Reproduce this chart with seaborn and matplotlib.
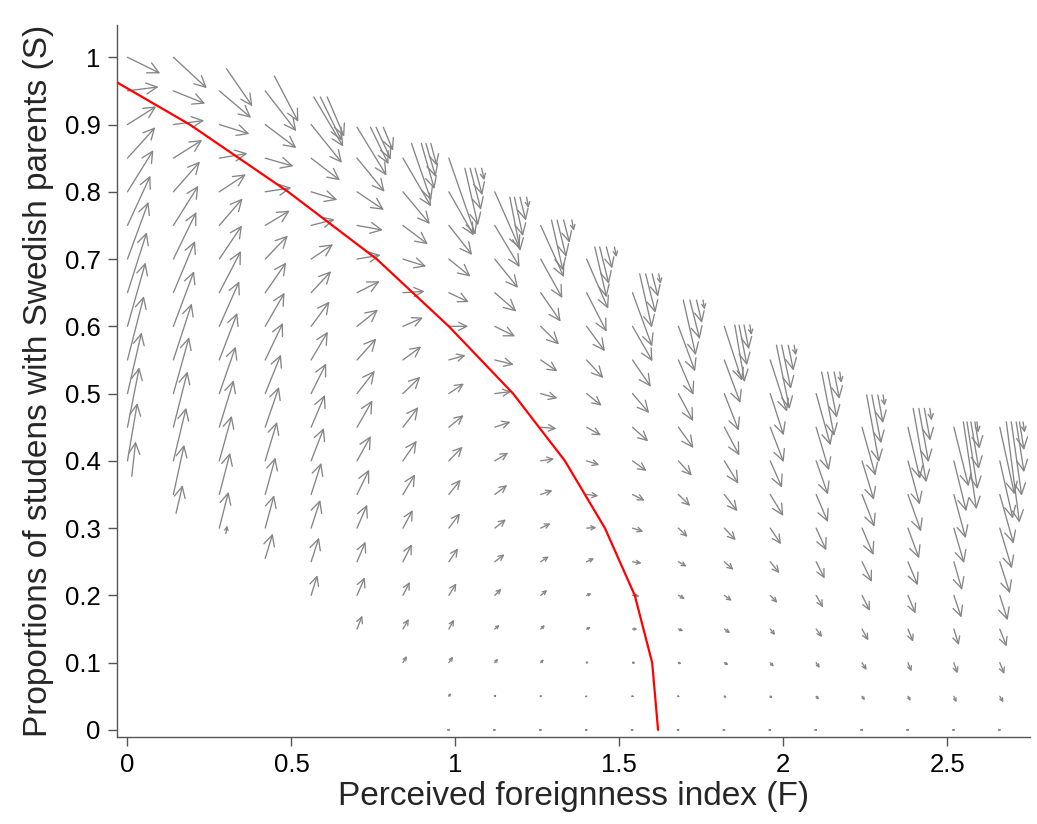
import numpy as np
import seaborn as sns
import matplotlib
matplotlib.use("Agg")
import matplotlib.pyplot as plt
from matplotlib import ticker
from matplotlib.patches import FancyArrowPatch, ArrowStyle

# grid of the direction field
F_cols = [0.00, 0.14, 0.28, 0.42, 0.56, 0.70, 0.84, 0.98, 1.12, 1.26,
          1.40, 1.54, 1.68, 1.82, 1.96, 2.10, 2.24, 2.38, 2.52, 2.66]
S_rows = [1.00, 0.95, 0.90, 0.85, 0.80, 0.75, 0.70, 0.65, 0.60, 0.55, 0.50,
          0.45, 0.40, 0.35, 0.30, 0.25, 0.20, 0.15, 0.10, 0.05, 0.00]
S_top = [1.00, 1.00, 0.95, 0.95, 0.90, 0.85, 0.85, 0.85, 0.80, 0.75,
         0.70, 0.65, 0.60, 0.60, 0.55, 0.50, 0.45, 0.45, 0.45, 0.45]

# arrow components per column, from top row downwards
c00_dF = [0.100, 0.095, 0.088, 0.085, 0.079, 0.070, 0.064, 0.059, 0.055, 0.050, 0.043, 0.036, 0.030]
c00_dS = [-0.024, 0.006, 0.027, 0.046, 0.062, 0.074, 0.085, 0.090, 0.095, 0.095, 0.091, 0.089, 0.086]
c01_dF = [0.102, 0.097, 0.094, 0.088, 0.081, 0.076, 0.070, 0.066, 0.063, 0.056, 0.048, 0.043, 0.039, 0.033]
c01_dS = [-0.046, -0.019, 0.006, 0.027, 0.045, 0.059, 0.070, 0.077, 0.082, 0.084, 0.084, 0.083, 0.079, 0.074]
c02_dF = [0.097, 0.092, 0.086, 0.081, 0.071, 0.069, 0.066, 0.061, 0.055, 0.050, 0.044, 0.038, 0.033, 0.028]
c02_dS = [-0.040, -0.014, 0.007, 0.026, 0.040, 0.050, 0.062, 0.067, 0.070, 0.070, 0.070, 0.067, 0.062, 0.054]
c03_dF = [0.095, 0.095, 0.086, 0.080, 0.075, 0.069, 0.064, 0.059, 0.054, 0.048, 0.042, 0.036, 0.031, 0.027]
c03_dS = [-0.060, -0.035, -0.012, 0.006, 0.022, 0.035, 0.045, 0.050, 0.055, 0.058, 0.060, 0.058, 0.055, 0.049]
c04_dF = [0.094, 0.088, 0.080, 0.072, 0.067, 0.061, 0.056, 0.051, 0.046, 0.042, 0.039, 0.031, 0.028, 0.024, 0.019]
c04_dS = [-0.057, -0.033, -0.012, 0.009, 0.022, 0.032, 0.037, 0.042, 0.045, 0.048, 0.049, 0.047, 0.042, 0.036, 0.030]
c05_dF = [0.084, 0.082, 0.079, 0.072, 0.069, 0.064, 0.059, 0.054, 0.047, 0.042, 0.037, 0.031, 0.026, 0.024, 0.016]
c05_dS = [-0.050, -0.027, -0.007, 0.006, 0.017, 0.025, 0.032, 0.034, 0.040, 0.037, 0.037, 0.035, 0.030, 0.027, 0.020]
c06_dF = [0.086, 0.082, 0.076, 0.071, 0.066, 0.061, 0.056, 0.053, 0.047, 0.042, 0.037, 0.030, 0.027, 0.021, 0.018, 0.012]
c06_dS = [-0.072, -0.048, -0.028, -0.011, 0.002, 0.013, 0.020, 0.025, 0.030, 0.030, 0.030, 0.027, 0.026, 0.020, 0.015, 0.010]
c07_dF = [0.081, 0.076, 0.071, 0.066, 0.061, 0.059, 0.051, 0.046, 0.045, 0.042, 0.036, 0.034, 0.028, 0.023, 0.016, 0.013, 0.006, 0.002]
c07_dS = [-0.114, -0.065, -0.044, -0.026, -0.014, 0.000, 0.007, 0.015, 0.018, 0.021, 0.022, 0.022, 0.020, 0.018, 0.014, 0.009, 0.005, 0.000]
c08_dF = [0.076, 0.076, 0.071, 0.066, 0.062, 0.058, 0.050, 0.048, 0.041, 0.038, 0.034, 0.030, 0.020, 0.015, 0.010, 0.005, 0.002]
c08_dS = [-0.084, -0.062, -0.043, -0.028, -0.015, -0.007, 0.003, 0.008, 0.012, 0.014, 0.013, 0.011, 0.010, 0.006, 0.006, 0.003, 0.000]
c09_dF = [0.071, 0.066, 0.061, 0.056, 0.051, 0.051, 0.048, 0.041, 0.036, 0.030, 0.025, 0.020, 0.013, 0.010, 0.005, 0.002]
c09_dS = [-0.077, -0.058, -0.043, -0.027, -0.017, -0.007, -0.002, 0.003, 0.006, 0.007, 0.008, 0.008, 0.006, 0.005, 0.002, 0.000]
c10_dF = [0.066, 0.061, 0.056, 0.051, 0.046, 0.044, 0.039, 0.036, 0.030, 0.023, 0.015, 0.013, 0.007, 0.003, 0.002]
c10_dS = [-0.074, -0.058, -0.037, -0.027, -0.018, -0.012, -0.006, -0.002, 0.001, 0.005, 0.003, 0.003, 0.0015, 0.0005, 0.000]
c11_dF = [0.060, 0.061, 0.056, 0.051, 0.048, 0.043, 0.037, 0.033, 0.028, 0.022, 0.015, 0.010, 0.005, 0.002]
c11_dS = [-0.080, -0.052, -0.040, -0.029, -0.021, -0.015, -0.009, -0.005, -0.002, -0.001, 0.000, 0.000, 0.000, 0.000]
c12_dF = [0.051, 0.046, 0.045, 0.046, 0.041, 0.036, 0.028, 0.025, 0.020, 0.015, 0.010, 0.005, 0.002]
c12_dS = [-0.067, -0.052, -0.041, -0.031, -0.022, -0.017, -0.013, -0.007, -0.005, -0.003, -0.002, -0.0005, 0.000]
c13_dF = [0.054, 0.049, 0.044, 0.046, 0.043, 0.040, 0.035, 0.028, 0.023, 0.018, 0.013, 0.008, 0.002]
c13_dS = [-0.081, -0.064, -0.055, -0.042, -0.034, -0.025, -0.018, -0.012, -0.008, -0.006, -0.0035, -0.002, 0.000]
c14_dF = [0.051, 0.041, 0.041, 0.036, 0.040, 0.033, 0.028, 0.022, 0.015, 0.011, 0.007, 0.002]
c14_dS = [-0.077, -0.062, -0.052, -0.040, -0.032, -0.024, -0.017, -0.011, -0.009, -0.006, -0.003, 0.000]
c15_dF = [0.044, 0.039, 0.036, 0.036, 0.031, 0.026, 0.021, 0.018, 0.011, 0.009, 0.002]
c15_dS = [-0.077, -0.064, -0.050, -0.041, -0.033, -0.025, -0.018, -0.012, -0.008, -0.005, 0.000]
c16_dF = [0.041, 0.036, 0.038, 0.035, 0.030, 0.024, 0.019, 0.014, 0.009, 0.002]
c16_dS = [-0.072, -0.058, -0.048, -0.040, -0.030, -0.023, -0.017, -0.011, -0.006, 0.000]
c17_dF = [0.037, 0.036, 0.040, 0.034, 0.030, 0.023, 0.016, 0.011, 0.008, 0.002]
c17_dS = [-0.077, -0.065, -0.055, -0.045, -0.035, -0.027, -0.019, -0.013, -0.007, 0.000]
c18_dF = [0.045, 0.038, 0.036, 0.031, 0.025, 0.023, 0.015, 0.011, 0.008, 0.002]
c18_dS = [-0.088, -0.075, -0.065, -0.052, -0.042, -0.033, -0.024, -0.016, -0.009, 0.000]
c19_dF = [0.045, 0.040, 0.042, 0.037, 0.031, 0.024, 0.021, 0.014, 0.011, 0.002]
c19_dS = [-0.100, -0.086, -0.073, -0.060, -0.047, -0.037, -0.026, -0.017, -0.009, 0.000]

col_dF = [c00_dF, c01_dF, c02_dF, c03_dF, c04_dF, c05_dF, c06_dF, c07_dF, c08_dF, c09_dF,
          c10_dF, c11_dF, c12_dF, c13_dF, c14_dF, c15_dF, c16_dF, c17_dF, c18_dF, c19_dF]
col_dS = [c00_dS, c01_dS, c02_dS, c03_dS, c04_dS, c05_dS, c06_dS, c07_dS, c08_dS, c09_dS,
          c10_dS, c11_dS, c12_dS, c13_dS, c14_dS, c15_dS, c16_dS, c17_dS, c18_dS, c19_dS]

# bunched arrows at the top edge of each column
fan_F = [0.568, 0.588, 0.609,
         0.700, 0.741, 0.758, 0.780,
         0.866, 0.896, 0.910, 0.925,
         1.029, 1.045, 1.060, 1.080,
         1.166, 1.180, 1.197, 1.217,
         1.293, 1.310, 1.330, 1.355,
         1.425, 1.440, 1.460, 1.485,
         1.562, 1.580, 1.600, 1.620,
         1.695, 1.715, 1.735, 1.755,
         1.852, 1.865, 1.880, 1.898,
         1.979, 1.995, 2.015, 2.033,
         2.117, 2.135, 2.155, 2.172,
         2.254, 2.270, 2.288, 2.304,
         2.396, 2.413, 2.430, 2.447,
         2.549, 2.560, 2.572, 2.584, 2.590,
         2.680, 2.695, 2.710, 2.720, 2.731]
fan_S = [0.941] * 3 + [0.896] * 4 + [0.872] * 4 + [0.835] * 4 + [0.792] * 4 + \
        [0.758] * 4 + [0.718] * 4 + [0.678] * 4 + [0.639] * 4 + [0.602] * 4 + \
        [0.572] * 4 + [0.532] * 4 + [0.498] * 4 + [0.478] * 4 + [0.458] * 5 + [0.458] * 5
fan_dF = [0.090, 0.065, 0.052,
          0.090, 0.055, 0.045, 0.030,
          0.060, 0.040, 0.030, 0.018,
          0.040, 0.033, 0.022, 0.008,
          0.032, 0.026, 0.018, 0.006,
          0.035, 0.028, 0.018, 0.006,
          0.036, 0.028, 0.018, 0.006,
          0.037, 0.030, 0.018, 0.006,
          0.038, 0.030, 0.017, 0.005,
          0.030, 0.024, 0.015, 0.005,
          0.040, 0.028, 0.016, 0.005,
          0.038, 0.028, 0.016, 0.005,
          0.038, 0.028, 0.016, 0.005,
          0.040, 0.030, 0.018, 0.005,
          0.040, 0.032, 0.024, 0.014, 0.005,
          0.040, 0.032, 0.024, 0.014, 0.005]
fan_dS = [-0.074, -0.065, -0.059,
          -0.072, -0.055, -0.048, -0.035,
          -0.085, -0.068, -0.050, -0.033,
          -0.085, -0.062, -0.040, -0.018,
          -0.080, -0.058, -0.035, -0.016,
          -0.075, -0.055, -0.034, -0.016,
          -0.075, -0.055, -0.032, -0.015,
          -0.080, -0.058, -0.034, -0.015,
          -0.082, -0.058, -0.034, -0.014,
          -0.085, -0.060, -0.036, -0.015,
          -0.095, -0.065, -0.038, -0.015,
          -0.095, -0.068, -0.040, -0.016,
          -0.100, -0.072, -0.042, -0.016,
          -0.110, -0.080, -0.048, -0.018,
          -0.130, -0.100, -0.070, -0.040, -0.016,
          -0.150, -0.110, -0.075, -0.042, -0.016]

# single arrows off the grid (top and lower-left edge)
edge_F = [0.302, 0.448, 0.013, 0.148, 0.300, 0.420]
edge_S = [0.983, 0.972, 0.377, 0.322, 0.292, 0.255]
edge_dF = [0.079, 0.073, 0.012, 0.020, 0.004, 0.023]
edge_dS = [-0.056, -0.068, 0.052, 0.042, 0.012, 0.037]

# red isocline
curve_F = [-0.033, 0.19, 0.49, 0.76, 0.98, 1.176, 1.334, 1.456, 1.547, 1.600, 1.618]
curve_S = [0.963, 0.90, 0.80, 0.70, 0.60, 0.50, 0.40, 0.30, 0.20, 0.10, 0.00]

ARROW = "#858585"
AXIS = "#555555"

sns.set_style("ticks")
plt.rcParams["font.family"] = ["Liberation Sans", "DejaVu Sans"]

fig = plt.figure(figsize=(10.37, 8.24), dpi=100)
ax = fig.add_axes([0.1125, 0.106, 0.8807, 0.8637])
ax.set_xlim(-0.033, 2.752)
ax.set_ylim(-0.01, 1.048)


def draw_arrow(x, y, dx, dy):
    p0 = ax.transData.transform((x, y))
    p1 = ax.transData.transform((x + dx, y + dy))
    length = np.hypot(*(p1 - p0))
    head = min(11.0, 0.42 * length) * 72 / fig.dpi
    style = ArrowStyle("->", head_length=head, head_width=head * 0.5)
    ax.add_patch(FancyArrowPatch((x, y), (x + dx, y + dy), arrowstyle=style,
                                 mutation_scale=1, shrinkA=0, shrinkB=0,
                                 color=ARROW, lw=0.95, zorder=2))


for k, f in enumerate(F_cols):
    i0 = S_rows.index(S_top[k])
    for j, (u, v) in enumerate(zip(col_dF[k], col_dS[k])):
        draw_arrow(f, S_rows[i0 + j], u, v)

for f, s, u, v in zip(fan_F, fan_S, fan_dF, fan_dS):
    draw_arrow(f, s, u, v)

for f, s, u, v in zip(edge_F, edge_S, edge_dF, edge_dS):
    draw_arrow(f, s, u, v)

sns.lineplot(x=curve_F, y=curve_S, sort=False, estimator=None, color="#ff0000",
             lw=1.6, ax=ax, zorder=3)

ax.set_xlim(-0.033, 2.752)
ax.set_ylim(-0.01, 1.048)
ax.set_xticks([0, 0.5, 1, 1.5, 2, 2.5])
ax.set_yticks([0, 0.1, 0.2, 0.3, 0.4, 0.5, 0.6, 0.7, 0.8, 0.9, 1])
fmt = ticker.FuncFormatter(lambda v, p: f"{v:g}")
ax.xaxis.set_major_formatter(fmt)
ax.yaxis.set_major_formatter(fmt)
ax.tick_params(direction="out", length=6.5, width=1.0, color=AXIS,
               labelsize=18.5, labelcolor="black", pad=5)
sns.despine(ax=ax)
for side in ["left", "bottom"]:
    ax.spines[side].set_color(AXIS)
    ax.spines[side].set_linewidth(1.0)

ax.set_xlabel("Perceived foreignness index (F)", fontsize=24, labelpad=3)
ax.set_ylabel("Proportions of studens with Swedish parents (S)", fontsize=24, labelpad=8)

fig.savefig("out.png", dpi=100)
